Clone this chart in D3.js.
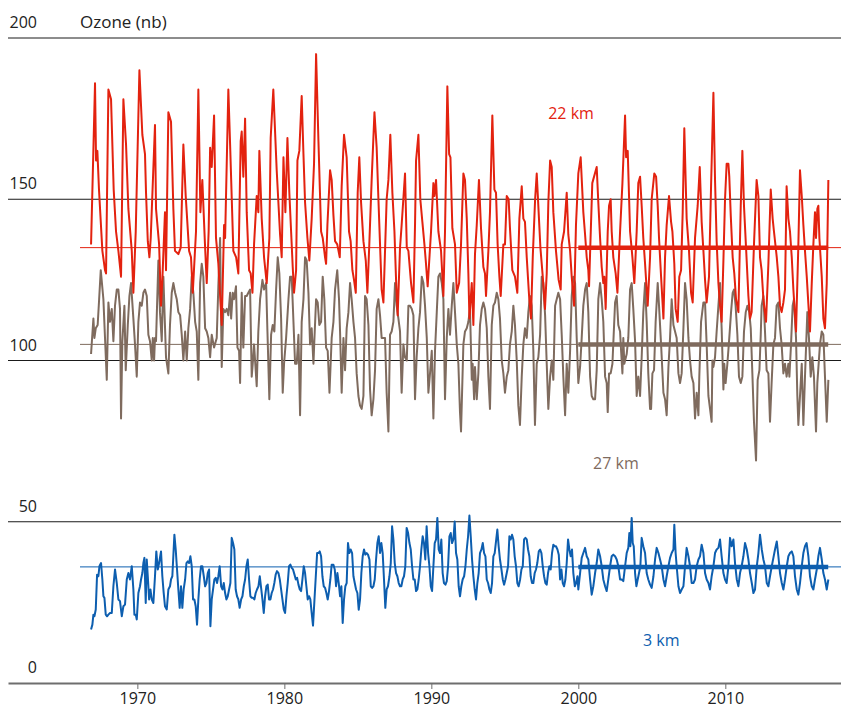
<!DOCTYPE html>
<html>
<head>
<meta charset="utf-8">
<title>Ozone</title>
<script src="https://d3js.org/d3.v7.min.js"></script>
<style>
  body { margin: 0; background: #fff; }
  svg text { font-family: "Open Sans", "Noto Sans", sans-serif; font-size: 16px; fill: #222; }
</style>
</head>
<body>
<div id="wrapper"></div>
<script>
var width = 841, height = 709;

var xTicks = [1970, 1980, 1990, 2000, 2010];
var yTicks = [0, 50, 100, 150, 200];
var yTitle = "Ozone (nb)";
var seriesNames = ["22 km", "27 km", "3 km"];
var seriesColors = ["#e3220f", "#7f6b5e", "#0d5eaf"];
// long term mean (thin line) and mean over the recent period (thick line)
var means = [135, 105, 36];
var meanPeriod = [2000, 2017];

// [decimal year, value]
var ozone22 = [[1966.85,136],[1967.12,186],[1967.19,162],[1967.28,165],[1967.39,153],[1967.62,134],[1967.80,128],[1967.87,127],
[1968.03,184],[1968.21,181],[1968.39,153],[1968.55,140],[1968.71,134],[1968.89,126],
[1969.05,181],[1969.23,167],[1969.39,147],[1969.62,134],[1969.73,121],[1969.89,140],
[1970.14,190],[1970.34,170],[1970.52,164],[1970.59,152],[1970.71,137],[1970.82,132],[1970.91,138],
[1971.20,173],[1971.27,147],[1971.48,136],[1971.61,117],[1971.70,125],[1971.88,146],[1971.95,128],
[1972.11,177],[1972.29,174],[1972.45,147],[1972.56,134],[1972.79,133],[1972.95,135],
[1973.13,167],[1973.29,151],[1973.52,134],[1973.65,132],[1973.77,121],[1973.99,140],
[1974.15,184],[1974.29,146],[1974.42,156],[1974.60,136],[1974.72,124],[1974.85,140],
[1974.95,166],[1975.06,160],[1975.22,176],[1975.35,138],[1975.51,130],[1975.74,111],[1975.90,142],[1975.97,138],
[1976.19,184],[1976.31,167],[1976.53,134],[1976.72,132],[1976.87,127],
[1977.03,168],[1977.10,171],[1977.21,157],[1977.33,175],[1977.44,146],[1977.60,128],[1977.71,127],[1977.83,121],[1977.94,136],
[1978.12,151],[1978.23,146],[1978.30,165],[1978.46,144],[1978.62,132],[1978.80,124],[1978.98,138],
[1979.07,169],[1979.25,184],[1979.48,159],[1979.71,139],[1979.82,132],[1979.94,163],
[1980.07,146],[1980.21,169],[1980.34,152],[1980.46,140],[1980.57,129],[1980.66,121],[1980.80,128],[1980.89,162],
[1981.02,165],[1981.18,182],[1981.30,164],[1981.41,149],[1981.57,138],[1981.70,131],[1981.86,144],
[1982.02,161],[1982.16,195],[1982.32,168],[1982.50,140],[1982.61,138],[1982.77,132],[1982.84,130],[1982.93,142],
[1983.11,159],[1983.22,156],[1983.34,145],[1983.45,137],[1983.60,136],[1983.77,132],[1983.90,154],
[1984.06,170],[1984.24,163],[1984.40,140],[1984.51,137],[1984.63,128],[1984.74,125],[1984.86,121],[1984.99,152],
[1985.10,163],[1985.22,149],[1985.38,137],[1985.54,131],[1985.65,121],[1985.78,136],[1985.94,156],
[1986.13,177],[1986.28,166],[1986.40,150],[1986.51,136],[1986.62,122],[1986.74,118],[1986.96,150],
[1987.08,156],[1987.21,170],[1987.35,152],[1987.49,140],[1987.60,125],[1987.71,114],[1987.87,135],[1987.98,142],
[1988.21,158],[1988.33,135],[1988.44,134],[1988.62,124],[1988.78,118],[1988.89,142],[1988.96,162],
[1989.12,170],[1989.25,150],[1989.39,143],[1989.53,136],[1989.62,131],[1989.75,123],[1989.98,140],
[1990.14,155],[1990.21,151],[1990.32,156],[1990.48,140],[1990.66,134],[1990.82,120],[1990.93,140],
[1991.09,185],[1991.21,164],[1991.30,163],[1991.43,141],[1991.61,136],[1991.73,121],[1991.89,124],
[1992.02,136],[1992.18,158],[1992.29,156],[1992.41,144],[1992.52,127],[1992.59,113],[1992.75,124],[1992.86,111],[1992.97,133],
[1993.09,142],[1993.24,156],[1993.38,141],[1993.54,129],[1993.65,127],[1993.72,120],[1993.88,134],[1993.99,146],
[1994.15,176],[1994.29,153],[1994.40,152],[1994.51,136],[1994.63,126],[1994.72,120],[1994.90,136],
[1995.01,136],[1995.13,151],[1995.26,150],[1995.35,141],[1995.51,128],[1995.69,126],[1995.85,121],[1995.99,144],
[1996.15,154],[1996.26,144],[1996.37,143],[1996.49,132],[1996.65,120],[1996.78,113],[1996.90,132],
[1997.06,150],[1997.17,158],[1997.30,146],[1997.42,135],[1997.58,126],[1997.73,116],[1997.85,127],[1997.96,149],
[1998.08,162],[1998.19,160],[1998.30,146],[1998.48,134],[1998.66,125],[1998.80,122],[1998.87,136],
[1999.03,140],[1999.21,152],[1999.32,139],[1999.44,134],[1999.55,126],[1999.71,117],[1999.84,142],
[2000.00,158],[2000.16,163],[2000.34,146],[2000.46,139],[2000.57,132],[2000.68,128],[2000.73,123],[2000.95,155],
[2001.25,160],[2001.36,149],[2001.48,138],[2001.59,129],[2001.70,124],[2001.77,126],[2001.86,116],
[2002.00,140],[2002.09,148],[2002.20,150],[2002.27,140],[2002.38,132],[2002.54,127],[2002.66,121],[2002.84,140],
[2003.00,155],[2003.18,176],[2003.25,163],[2003.36,165],[2003.52,140],[2003.68,132],[2003.81,124],[2003.97,140],
[2004.08,155],[2004.20,157],[2004.31,148],[2004.42,138],[2004.54,130],[2004.72,117],[2004.88,132],[2004.99,150],
[2005.17,158],[2005.29,157],[2005.40,148],[2005.49,138],[2005.63,126],[2005.79,113],[2005.90,132],
[2006.01,142],[2006.17,151],[2006.31,143],[2006.40,140],[2006.53,130],[2006.62,116],[2006.76,112],[2006.87,126],[2006.99,128],
[2007.10,146],[2007.21,172],[2007.37,144],[2007.53,134],[2007.67,121],[2007.78,118],[2007.94,138],
[2008.12,148],[2008.26,160],[2008.39,143],[2008.51,134],[2008.62,125],[2008.73,118],[2008.89,126],
[2009.03,154],[2009.19,183],[2009.30,156],[2009.41,137],[2009.53,124],[2009.64,117],[2009.75,112],[2009.87,131],[2009.98,150],
[2010.09,161],[2010.21,161],[2010.27,157],[2010.37,145],[2010.50,132],[2010.61,127],[2010.73,119],[2010.89,115],
[2011.05,148],[2011.16,165],[2011.27,148],[2011.41,135],[2011.57,120],[2011.68,113],[2011.79,115],[2011.95,136],
[2012.13,156],[2012.25,151],[2012.36,132],[2012.47,128],[2012.59,119],[2012.77,112],[2012.93,130],
[2013.09,153],[2013.22,144],[2013.31,140],[2013.50,132],[2013.61,126],[2013.72,117],[2013.83,115],[2013.95,118],
[2014.06,122],[2014.17,154],[2014.29,144],[2014.40,140],[2014.52,132],[2014.63,122],[2014.81,109],[2014.97,136],
[2015.08,159],[2015.20,151],[2015.31,142],[2015.42,134],[2015.54,126],[2015.76,109],[2015.88,124],[2015.99,136],
[2016.10,146],[2016.17,138],[2016.26,147],[2016.33,148],[2016.40,138],[2016.56,126],[2016.67,113],[2016.78,110],[2016.90,124],[2017.01,156]];

var ozone27 = [[1966.85,102],[1967.01,113],[1967.08,107],[1967.17,110],[1967.30,111],[1967.40,119],[1967.51,128],[1967.69,119],[1967.80,107],[1967.92,94],
[1968.03,118],[1968.14,112],[1968.26,116],[1968.37,106],[1968.48,117],[1968.60,122],[1968.71,122],[1968.82,116],[1968.89,82],[1968.98,106],
[1969.12,117],[1969.21,97],[1969.35,111],[1969.46,120],[1969.57,124],[1969.73,113],[1969.84,105],[1969.96,95],
[1970.07,112],[1970.18,118],[1970.30,117],[1970.41,121],[1970.52,122],[1970.64,120],[1970.75,108],[1970.86,106],[1970.98,100],
[1971.05,107],[1971.14,100],[1971.20,107],[1971.27,106],[1971.43,131],[1971.54,115],[1971.66,106],[1971.77,126],[1971.84,116],[1971.95,101],
[1972.11,96],[1972.22,111],[1972.34,121],[1972.45,124],[1972.57,121],[1972.68,119],[1972.79,115],[1972.91,114],
[1973.02,108],[1973.13,100],[1973.25,109],[1973.36,100],[1973.47,110],[1973.59,116],[1973.70,126],[1973.81,121],[1973.93,112],
[1974.04,109],[1974.15,94],[1974.27,124],[1974.38,130],[1974.49,126],[1974.61,110],[1974.72,109],[1974.83,107],[1974.95,101],
[1975.06,108],[1975.22,104],[1975.40,107],[1975.51,123],[1975.63,138],[1975.74,98],[1975.85,116],[1975.97,115],
[1976.08,116],[1976.19,114],[1976.31,121],[1976.38,113],[1976.49,121],[1976.58,119],[1976.71,123],[1976.81,104],[1976.92,103],[1976.99,93],
[1977.10,121],[1977.21,104],[1977.33,120],[1977.44,120],[1977.55,121],[1977.67,122],[1977.78,95],[1977.85,99],[1977.94,105],
[1978.12,92],[1978.23,109],[1978.35,119],[1978.51,125],[1978.62,122],[1978.76,124],[1978.85,109],[1978.98,88],
[1979.10,108],[1979.21,111],[1979.32,109],[1979.44,122],[1979.55,132],[1979.66,127],[1979.78,113],[1979.89,90],[1979.98,99],
[1980.12,107],[1980.28,119],[1980.39,126],[1980.50,126],[1980.62,112],[1980.73,99],[1980.84,99],[1980.96,108],
[1981.07,83],[1981.18,112],[1981.30,119],[1981.41,132],[1981.52,131],[1981.64,121],[1981.75,105],[1981.86,110],[1981.98,99],
[1982.04,106],[1982.16,119],[1982.27,118],[1982.38,111],[1982.50,112],[1982.61,126],[1982.72,119],[1982.84,104],[1982.95,103],
[1983.07,90],[1983.22,107],[1983.34,112],[1983.45,122],[1983.60,128],[1983.72,119],[1983.79,109],[1983.90,90],
[1984.02,107],[1984.13,97],[1984.24,110],[1984.36,115],[1984.47,124],[1984.58,119],[1984.70,112],[1984.81,107],[1984.92,96],
[1985.04,89],[1985.15,86],[1985.26,85],[1985.38,89],[1985.49,120],[1985.60,119],[1985.72,111],[1985.83,91],[1985.94,83],
[1986.06,88],[1986.17,97],[1986.28,116],[1986.40,119],[1986.51,114],[1986.62,107],[1986.74,107],[1986.85,107],[1986.96,90],
[1987.08,78],[1987.19,108],[1987.30,109],[1987.42,112],[1987.53,124],[1987.64,117],[1987.76,113],[1987.87,109],[1987.98,90],
[1988.10,105],[1988.21,101],[1988.33,100],[1988.44,117],[1988.55,117],[1988.67,116],[1988.78,114],[1988.89,88],
[1989.00,101],[1989.12,110],[1989.23,115],[1989.35,126],[1989.46,124],[1989.57,117],[1989.69,107],[1989.80,90],[1989.91,96],
[1990.03,103],[1990.14,82],[1990.25,103],[1990.37,115],[1990.48,126],[1990.59,127],[1990.71,124],[1990.82,119],[1990.93,88],
[1991.05,107],[1991.16,116],[1991.27,108],[1991.39,117],[1991.50,124],[1991.61,115],[1991.73,105],[1991.84,99],[1991.95,84],
[1992.02,78],[1992.18,105],[1992.29,109],[1992.41,110],[1992.52,112],[1992.63,116],[1992.75,94],[1992.81,99],[1992.91,88],[1992.97,98],
[1993.09,88],[1993.20,96],[1993.31,111],[1993.43,116],[1993.54,118],[1993.65,116],[1993.77,110],[1993.88,95],[1993.99,85],
[1994.11,111],[1994.22,117],[1994.33,118],[1994.45,121],[1994.56,119],[1994.67,113],[1994.79,100],[1994.90,96],
[1995.01,90],[1995.13,95],[1995.24,97],[1995.35,105],[1995.47,109],[1995.58,117],[1995.69,111],[1995.81,100],[1995.92,86],
[1996.03,80],[1996.15,95],[1996.26,105],[1996.37,110],[1996.49,107],[1996.60,115],[1996.71,120],[1996.83,117],[1996.94,103],
[1997.05,80],[1997.17,99],[1997.28,101],[1997.40,108],[1997.51,126],[1997.62,124],[1997.74,114],[1997.85,99],[1997.96,85],
[1998.08,95],[1998.19,100],[1998.30,94],[1998.42,117],[1998.53,119],[1998.64,121],[1998.76,119],[1998.87,108],[1998.98,95],
[1999.10,83],[1999.21,99],[1999.32,90],[1999.44,103],[1999.55,120],[1999.66,126],[1999.78,124],[1999.89,107],
[2000.00,93],[2000.12,98],[2000.23,107],[2000.34,117],[2000.46,122],[2000.57,124],[2000.68,115],[2000.80,95],[2000.91,89],
[2001.02,88],[2001.14,88],[2001.25,97],[2001.36,119],[2001.48,124],[2001.59,119],[2001.70,112],[2001.82,95],[2001.93,93],
[2002.00,84],[2002.09,96],[2002.20,96],[2002.32,99],[2002.50,118],[2002.61,120],[2002.72,111],[2002.84,109],[2002.91,103],
[2003.00,96],[2003.06,107],[2003.13,99],[2003.29,102],[2003.40,107],[2003.52,122],[2003.63,124],[2003.74,116],[2003.86,106],[2003.97,89],
[2004.08,95],[2004.20,89],[2004.31,101],[2004.42,115],[2004.54,124],[2004.65,112],[2004.76,96],[2004.88,85],[2004.95,85],
[2005.04,96],[2005.15,97],[2005.26,112],[2005.40,124],[2005.49,117],[2005.63,105],[2005.79,90],[2005.90,88],
[2006.01,83],[2006.13,98],[2006.24,107],[2006.35,119],[2006.47,111],[2006.58,109],[2006.69,107],[2006.81,96],[2006.92,93],
[2007.03,96],[2007.15,110],[2007.26,124],[2007.37,119],[2007.49,107],[2007.60,100],[2007.71,95],[2007.83,93],[2007.94,82],
[2008.05,90],[2008.17,83],[2008.23,95],[2008.35,112],[2008.51,118],[2008.62,118],[2008.73,105],[2008.85,89],[2008.96,85],
[2009.07,81],[2009.12,100],[2009.19,98],[2009.30,101],[2009.41,109],[2009.53,117],[2009.64,124],[2009.75,110],[2009.87,91],[2009.93,99],
[2010.02,93],[2010.14,99],[2010.27,107],[2010.39,115],[2010.50,121],[2010.59,122],[2010.70,117],[2010.82,108],[2010.93,95],
[2011.05,93],[2011.16,95],[2011.27,109],[2011.39,115],[2011.50,117],[2011.63,115],[2011.73,110],[2011.84,96],[2011.95,81],
[2012.09,69],[2012.20,94],[2012.32,97],[2012.41,108],[2012.47,117],[2012.59,120],[2012.70,109],[2012.81,97],[2012.93,96],
[2013.04,81],[2013.15,93],[2013.27,105],[2013.38,107],[2013.49,117],[2013.61,118],[2013.72,110],[2013.83,105],[2013.95,96],
[2014.06,99],[2014.17,95],[2014.29,99],[2014.36,95],[2014.47,105],[2014.58,117],[2014.67,119],[2014.81,107],[2014.90,89],[2014.97,80],
[2015.08,89],[2015.20,99],[2015.31,80],[2015.42,95],[2015.58,115],[2015.69,107],[2015.81,95],[2015.92,101],
[2016.03,95],[2016.17,78],[2016.26,93],[2016.44,105],[2016.56,109],[2016.67,108],[2016.78,95],[2016.90,81],[2017.01,94]];

var ozone3 = [[1966.85,16.6],[1966.94,18.1],[1967.01,21.2],[1967.08,20.7],[1967.17,22.8],[1967.26,33.6],[1967.35,33.1],[1967.42,36.2],[1967.53,37.2],[1967.62,32.1],[1967.69,26.9],[1967.76,26.4],[1967.85,21.2],[1967.94,20.7],
[1968.03,21.2],[1968.14,21.7],[1968.26,21.7],[1968.37,30.0],[1968.48,35.2],[1968.60,31.0],[1968.71,25.9],[1968.82,25.4],[1968.94,20.7],
[1969.05,23.8],[1969.16,24.3],[1969.28,32.1],[1969.39,34.1],[1969.50,32.1],[1969.62,36.2],[1969.73,29.0],[1969.80,21.2],[1969.89,21.2],[1969.96,19.7],
[1970.07,27.9],[1970.18,30.0],[1970.25,32.1],[1970.34,34.1],[1970.41,37.2],[1970.48,38.8],[1970.57,24.8],[1970.64,38.3],[1970.71,33.1],[1970.80,25.9],[1970.89,29.0],[1970.98,25.9],
[1971.09,24.8],[1971.20,33.1],[1971.29,40.8],[1971.39,35.2],[1971.48,37.2],[1971.61,40.8],[1971.70,33.1],[1971.79,28.0],[1971.88,23.8],[1972.00,22.8],
[1972.11,29.0],[1972.22,30.0],[1972.29,32.1],[1972.38,33.1],[1972.52,46.0],[1972.61,41.4],[1972.70,35.2],[1972.79,29.0],[1972.88,23.3],[1972.97,30.0],
[1973.06,23.3],[1973.15,29.0],[1973.25,32.1],[1973.34,37.2],[1973.43,37.7],[1973.52,37.2],[1973.61,39.3],[1973.70,36.2],[1973.79,25.9],[1973.88,25.9],[1973.97,23.8],
[1974.06,18.1],[1974.15,25.9],[1974.24,32.1],[1974.33,36.2],[1974.42,36.2],[1974.52,33.1],[1974.61,30.0],[1974.70,31.0],[1974.79,34.1],[1974.88,35.2],[1974.97,17.6],
[1975.06,25.9],[1975.15,29.0],[1975.24,32.1],[1975.33,32.6],[1975.42,31.0],[1975.51,33.1],[1975.60,36.2],[1975.70,30.0],[1975.79,29.0],[1975.88,31.0],[1975.97,27.9],
[1976.06,25.9],[1976.15,26.9],[1976.24,29.0],[1976.33,31.0],[1976.42,45.0],[1976.51,43.4],[1976.60,41.4],[1976.69,29.0],[1976.78,26.9],[1976.87,25.9],[1976.96,23.3],
[1977.06,25.9],[1977.15,26.9],[1977.24,30.0],[1977.33,32.1],[1977.42,36.2],[1977.51,38.3],[1977.60,32.1],[1977.69,26.9],[1977.78,26.4],[1977.87,26.4],[1977.96,25.9],
[1978.05,27.9],[1978.14,29.0],[1978.24,30.0],[1978.33,33.1],[1978.42,29.5],[1978.51,25.9],[1978.60,21.7],[1978.69,26.9],[1978.78,30.0],[1978.87,30.5],[1978.96,25.9],
[1979.05,25.9],[1979.14,27.9],[1979.23,29.0],[1979.32,31.0],[1979.41,33.6],[1979.50,34.7],[1979.60,34.1],[1979.69,32.1],[1979.78,29.0],[1979.87,25.9],[1979.96,22.8],
[1980.05,21.7],[1980.14,26.9],[1980.23,31.0],[1980.32,36.2],[1980.41,36.7],[1980.50,35.7],[1980.59,35.2],[1980.69,33.6],[1980.78,32.1],[1980.87,32.6],[1980.96,30.5],
[1981.05,29.0],[1981.14,28.5],[1981.23,32.1],[1981.32,36.2],[1981.41,34.1],[1981.50,30.0],[1981.59,25.9],[1981.68,26.9],[1981.77,25.9],[1981.86,21.7],[1981.95,17.8],
[1982.05,25.9],[1982.14,33.1],[1982.23,40.3],[1982.32,40.3],[1982.41,40.8],[1982.50,39.3],[1982.59,33.1],[1982.68,30.0],[1982.77,29.5],[1982.86,27.9],[1982.95,25.9],
[1983.04,28.5],[1983.13,32.1],[1983.22,36.7],[1983.34,36.7],[1983.43,35.2],[1983.52,30.0],[1983.61,34.1],[1983.70,31.0],[1983.79,26.9],[1983.88,30.0],[1983.97,18.6],
[1984.06,25.9],[1984.15,30.0],[1984.24,31.0],[1984.33,43.4],[1984.42,40.3],[1984.51,41.4],[1984.61,40.3],[1984.70,33.1],[1984.79,31.0],[1984.88,29.0],[1984.97,27.9],
[1985.06,22.7],[1985.15,25.9],[1985.24,34.1],[1985.33,39.3],[1985.42,41.4],[1985.51,39.8],[1985.60,40.3],[1985.69,39.8],[1985.79,38.3],[1985.88,30.0],[1985.97,29.5],
[1986.06,30.0],[1986.15,32.1],[1986.24,38.3],[1986.33,43.4],[1986.42,45.5],[1986.51,40.3],[1986.60,43.4],[1986.69,40.3],[1986.78,32.1],[1986.87,23.3],[1986.96,29.0],
[1987.05,30.0],[1987.15,33.1],[1987.24,37.2],[1987.33,48.6],[1987.42,44.5],[1987.51,37.2],[1987.60,34.1],[1987.69,33.1],[1987.78,31.0],[1987.87,30.0],[1987.96,30.0],
[1988.05,32.1],[1988.14,33.1],[1988.23,36.2],[1988.32,48.1],[1988.42,46.5],[1988.51,43.4],[1988.60,41.4],[1988.69,36.2],[1988.78,32.1],[1988.87,32.1],[1988.96,28.5],
[1989.05,29.0],[1989.14,32.1],[1989.23,36.2],[1989.32,41.4],[1989.41,45.5],[1989.50,43.4],[1989.59,38.3],[1989.68,48.6],[1989.78,40.3],[1989.87,36.2],[1989.96,30.0],
[1990.05,28.5],[1990.14,36.2],[1990.23,43.4],[1990.32,44.5],[1990.41,51.2],[1990.50,41.4],[1990.59,40.3],[1990.68,44.5],[1990.77,34.1],[1990.86,31.0],[1990.96,30.5],
[1991.05,31.6],[1991.14,36.2],[1991.23,45.5],[1991.32,46.5],[1991.41,43.4],[1991.50,44.5],[1991.59,50.1],[1991.68,40.3],[1991.77,38.3],[1991.86,30.0],[1991.95,26.9],
[1992.04,30.0],[1992.13,32.1],[1992.23,33.1],[1992.32,36.2],[1992.41,41.4],[1992.50,45.5],[1992.59,51.9],[1992.68,45.5],[1992.77,38.3],[1992.86,33.1],[1992.95,29.0],
[1993.04,25.9],[1993.13,31.0],[1993.22,34.1],[1993.31,40.3],[1993.41,41.4],[1993.50,43.4],[1993.59,40.3],[1993.68,39.3],[1993.77,32.1],[1993.86,31.0],[1993.95,29.0],
[1994.04,27.9],[1994.13,31.0],[1994.22,39.3],[1994.31,40.3],[1994.40,43.9],[1994.49,47.6],[1994.58,42.4],[1994.67,38.3],[1994.77,35.2],[1994.86,32.1],[1994.95,30.5],
[1995.04,32.1],[1995.13,34.1],[1995.22,36.2],[1995.31,45.5],[1995.40,44.5],[1995.49,46.0],[1995.58,44.5],[1995.67,39.3],[1995.76,36.2],[1995.85,31.0],[1995.94,30.0],
[1996.04,32.1],[1996.13,35.2],[1996.22,36.2],[1996.31,44.5],[1996.40,45.0],[1996.49,44.5],[1996.58,41.4],[1996.67,39.3],[1996.76,33.1],[1996.85,31.0],[1996.94,31.0],
[1997.03,34.1],[1997.12,35.2],[1997.21,37.2],[1997.31,40.8],[1997.40,41.4],[1997.49,40.3],[1997.58,36.2],[1997.67,33.1],[1997.76,31.0],[1997.85,30.5],[1997.94,34.1],
[1998.03,36.2],[1998.12,35.2],[1998.21,40.3],[1998.30,42.9],[1998.39,42.4],[1998.48,42.4],[1998.58,41.4],[1998.67,39.8],[1998.76,32.1],[1998.85,35.2],[1998.94,31.0],
[1999.03,30.0],[1999.12,32.1],[1999.21,37.2],[1999.30,44.5],[1999.39,41.4],[1999.48,39.3],[1999.57,41.4],[1999.66,34.1],[1999.76,30.0],[1999.85,31.0],[1999.94,33.1],
[2000.00,29.0],[2000.12,34.1],[2000.23,38.8],[2000.34,40.3],[2000.46,41.9],[2000.57,39.3],[2000.68,38.3],[2000.80,32.1],[2000.91,27.4],
[2001.02,30.0],[2001.14,34.1],[2001.25,37.2],[2001.36,41.4],[2001.48,39.3],[2001.59,36.2],[2001.70,32.1],[2001.82,30.0],[2001.93,28.5],
[2002.04,32.1],[2002.16,36.2],[2002.27,39.3],[2002.38,39.8],[2002.50,39.3],[2002.61,38.3],[2002.72,36.2],[2002.84,32.1],[2002.95,32.1],
[2003.06,31.6],[2003.18,36.2],[2003.29,40.3],[2003.40,41.9],[2003.47,46.5],[2003.54,42.4],[2003.63,51.2],[2003.70,43.4],[2003.77,42.4],[2003.86,34.1],[2003.95,30.0],
[2004.04,32.1],[2004.13,34.1],[2004.22,36.2],[2004.31,45.0],[2004.42,42.4],[2004.54,40.3],[2004.65,34.1],[2004.76,32.1],[2004.88,30.5],[2004.99,29.5],
[2005.11,33.1],[2005.22,38.3],[2005.33,41.9],[2005.45,40.3],[2005.56,38.3],[2005.67,36.2],[2005.79,32.1],[2005.90,30.0],
[2006.01,33.1],[2006.13,36.2],[2006.24,38.8],[2006.35,40.3],[2006.47,41.4],[2006.53,49.1],[2006.62,40.3],[2006.69,36.2],[2006.81,30.0],[2006.92,27.9],
[2007.03,29.0],[2007.15,30.0],[2007.26,36.2],[2007.37,41.9],[2007.49,39.3],[2007.60,36.2],[2007.71,31.0],[2007.83,31.0],[2007.94,32.1],
[2008.05,36.2],[2008.17,38.3],[2008.28,39.3],[2008.39,42.9],[2008.51,40.3],[2008.62,34.1],[2008.73,32.1],[2008.85,31.0],[2008.96,29.0],
[2009.07,33.1],[2009.19,36.2],[2009.30,40.3],[2009.41,41.4],[2009.53,41.9],[2009.64,44.5],[2009.75,39.3],[2009.87,34.1],[2009.98,32.1],
[2010.09,31.0],[2010.21,36.2],[2010.32,45.0],[2010.43,42.4],[2010.55,44.5],[2010.66,37.2],[2010.78,32.1],[2010.89,30.0],
[2011.00,34.1],[2011.11,36.2],[2011.23,39.3],[2011.34,43.4],[2011.46,41.4],[2011.57,38.3],[2011.68,34.1],[2011.80,31.0],[2011.91,27.9],
[2012.02,29.0],[2012.14,36.2],[2012.25,40.3],[2012.36,46.0],[2012.48,41.4],[2012.59,38.3],[2012.70,36.2],[2012.82,31.0],[2012.93,30.0],
[2013.04,33.1],[2013.16,36.2],[2013.27,38.8],[2013.38,41.4],[2013.50,43.9],[2013.61,39.3],[2013.72,34.1],[2013.84,31.0],[2013.95,29.0],
[2014.06,32.1],[2014.18,36.2],[2014.29,39.3],[2014.40,40.3],[2014.52,40.8],[2014.63,39.3],[2014.74,33.1],[2014.86,29.0],[2014.97,27.4],
[2015.08,31.0],[2015.20,36.2],[2015.31,40.3],[2015.42,42.4],[2015.53,43.4],[2015.65,39.3],[2015.76,33.1],[2015.88,30.0],[2015.99,29.0],
[2016.10,32.1],[2016.22,35.2],[2016.33,39.3],[2016.44,41.9],[2016.56,38.3],[2016.67,34.1],[2016.78,32.1],[2016.90,29.0],[2017.01,32.1]];

var series = [ozone22, ozone27, ozone3];

var svg = d3.select("#wrapper").append("svg")
  .attr("width", width)
  .attr("height", height);

// scales
var x = d3.scaleLinear().domain([1961.2, 2017.87]).range([8, 841]);
var y = d3.scaleLinear().domain([0, 200]).range([683, 38]);

// horizontal grid lines (not at 0, that is the axis)
svg.append("g").selectAll("line")
  .data(yTicks.filter(function(d) { return d > 0; }))
  .enter().append("line")
  .attr("x1", 8).attr("x2", 841)
  .attr("y1", function(d) { return y(d); })
  .attr("y2", function(d) { return y(d); })
  .attr("stroke", "#1a1a1a")
  .attr("stroke-width", 1);

// y labels sit above their line
svg.append("g").selectAll("text")
  .data(yTicks)
  .enter().append("text")
  .attr("x", 37)
  .attr("y", function(d) { return y(d) - 10; })
  .attr("text-anchor", "end")
  .text(function(d) { return d; });

svg.append("text")
  .attr("x", 80)
  .attr("y", 28)
  .style("font-size", "17px")
  .text(yTitle);

// x axis
var xAxis = d3.axisBottom(x)
  .tickValues(xTicks)
  .tickFormat(d3.format("d"))
  .tickSizeInner(6)
  .tickSizeOuter(0)
  .tickPadding(4);
var gx = svg.append("g")
  .attr("transform", "translate(0," + y(0) + ")")
  .call(xAxis);
gx.select(".domain").attr("stroke", "#6e6e6e").attr("stroke-width", 2);
gx.selectAll(".tick line").attr("stroke", "#6e6e6e").attr("stroke-width", 1);
gx.selectAll(".tick text").attr("font-size", 16).attr("font-family", null).style("fill", "#222");

// thin long term mean lines
svg.append("g").selectAll("line")
  .data(means)
  .enter().append("line")
  .attr("x1", 80).attr("x2", 841)
  .attr("y1", function(d) { return y(d); })
  .attr("y2", function(d) { return y(d); })
  .attr("stroke", function(d, i) { return seriesColors[i]; })
  .attr("stroke-width", 1);

// data lines, brown first so red sits on top
var line = d3.line()
  .x(function(d) { return x(d[0]); })
  .y(function(d) { return y(d[1]); });

[2, 1, 0].forEach(function(i) {
  svg.append("path")
    .datum(series[i])
    .attr("d", line)
    .attr("fill", "none")
    .attr("stroke", seriesColors[i])
    .attr("stroke-width", 2)
    .attr("stroke-linejoin", "round");
});

// thick recent mean lines
svg.append("g").selectAll("line")
  .data(means)
  .enter().append("line")
  .attr("x1", x(meanPeriod[0])).attr("x2", x(meanPeriod[1]))
  .attr("y1", function(d) { return y(d); })
  .attr("y2", function(d) { return y(d); })
  .attr("stroke", function(d, i) { return seriesColors[i]; })
  .attr("stroke-width", 4.5);

// series labels
var labelPos = [[1997.95, 175], [2001.0, 66.5], [2004.4, 11.5]];
svg.append("g").selectAll("text")
  .data(seriesNames)
  .enter().append("text")
  .attr("x", function(d, i) { return x(labelPos[i][0]); })
  .attr("y", function(d, i) { return y(labelPos[i][1]); })
  .style("fill", function(d, i) { return seriesColors[i]; })
  .text(function(d) { return d; });
</script>
</body>
</html>
